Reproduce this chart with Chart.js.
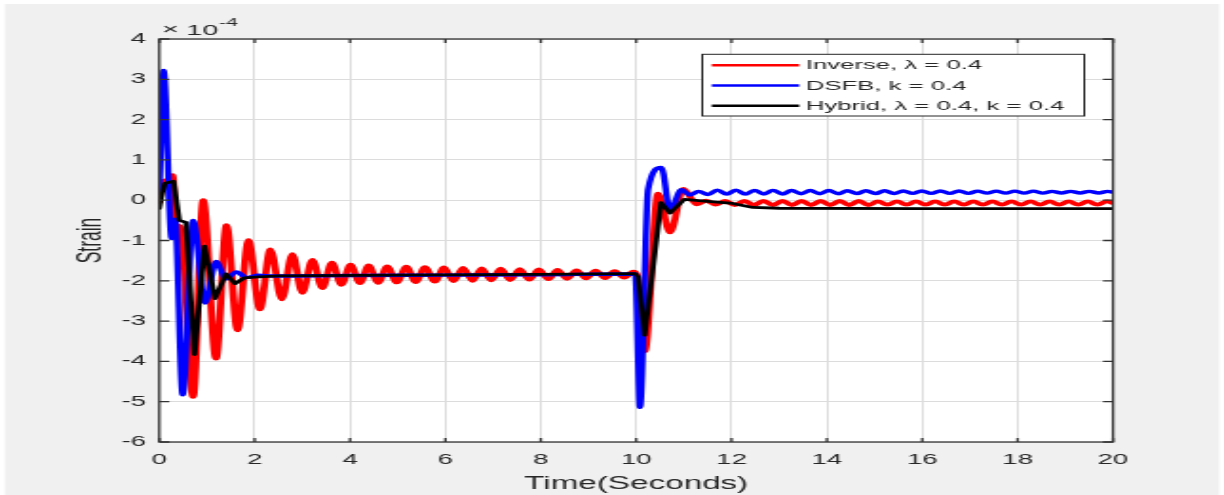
<!DOCTYPE html>
<html>
<head>
<meta charset="utf-8">
<title>Strain response</title>
<script src="https://cdn.jsdelivr.net/npm/chart.js@4.4.1/dist/chart.umd.min.js"></script>
<style>
  html, body { margin: 0; padding: 0; background: #ffffff; overflow: hidden; }
  /* the figure is drawn narrow and stretched sideways, like the source image */
  #wrap { width: 644px; height: 495px; transform: scaleX(1.9006); transform-origin: 0 0; }
</style>
</head>
<body>
<div id="wrap"><canvas id="chart"></canvas></div>
<script>
// strain values are in units of 1e-4 (axis shows the x10^-4 multiplier)
const xTickValues = [0, 2, 4, 6, 8, 10, 12, 14, 16, 18, 20];
const yTickValues = [-6, -5, -4, -3, -2, -1, 0, 1, 2, 3, 4];

const inverseTime = [
  0, 0.06, 0.18, 0.28, 0.35, 0.44, 0.71, 0.92, 1.19, 1.41,
  1.64, 1.87, 2.11, 2.33, 2.57, 2.79, 3.00, 3.21, 3.42, 3.62,
  3.82, 4.01, 4.21, 4.39, 4.59, 4.78, 4.98, 5.18, 5.38, 5.57,
  5.78, 5.97, 6.17, 6.37, 6.57, 6.76, 6.96, 7.16, 7.36, 7.56,
  7.76, 7.96, 8.16, 8.35, 8.55, 8.75, 8.95, 9.15, 9.35, 9.55,
  9.75, 9.94, 10.02, 10.18, 10.46, 10.71, 10.99, 11.27, 11.47, 11.67,
  11.87, 12.07, 12.27, 12.47, 12.67, 12.87, 13.07, 13.27, 13.47, 13.67,
  13.87, 14.07, 14.27, 14.47, 14.67, 14.87, 15.07, 15.27, 15.47, 15.67,
  15.87, 16.07, 16.27, 16.47, 16.67, 16.87, 17.07, 17.27, 17.47, 17.67,
  17.87, 18.07, 18.27, 18.47, 18.67, 18.87, 19.07, 19.27, 19.47, 19.67,
  19.87, 20.0
];
const inverseStrain = [
  -0.05, 0.45, 0.5, 0.62, -0.6, -0.66, -4.88, 0.0, -3.93, -0.62,
  -3.23, -0.99, -2.71, -1.22, -2.46, -1.34, -2.30, -1.48, -2.18, -1.55,
  -2.10, -1.60, -2.06, -1.62, -2.05, -1.64, -2.04, -1.65, -2.03, -1.66,
  -2.02, -1.67, -2.01, -1.68, -2.00, -1.69, -1.99, -1.70, -1.98, -1.71,
  -1.97, -1.72, -1.96, -1.73, -1.95, -1.74, -1.94, -1.75, -1.93, -1.76,
  -1.92, -1.77, -1.86, -3.75, 0.16, -0.80, 0.28, -0.10, -0.01, -0.11,
  -0.02, -0.12, -0.02, -0.12, -0.02, -0.12, -0.02, -0.12, -0.02, -0.12,
  -0.02, -0.12, -0.02, -0.12, -0.02, -0.12, -0.03, -0.11, -0.03, -0.11,
  -0.03, -0.11, -0.03, -0.11, -0.03, -0.11, -0.03, -0.11, -0.03, -0.11,
  -0.03, -0.11, -0.03, -0.11, -0.03, -0.11, -0.03, -0.11, -0.03, -0.11,
  -0.03, -0.07
];

const dsfbTime = [
  0, 0.09, 0.26, 0.33, 0.49, 0.71, 0.96, 1.19, 1.40, 1.62,
  1.83, 2.07, 2.4, 4.0, 6.0, 8.0, 9.98, 10.08, 10.25, 10.53,
  10.71, 10.95, 11.13, 11.31, 11.51, 11.70, 11.90, 12.09, 12.29, 12.48,
  12.68, 12.87, 13.07, 13.26, 13.46, 13.65, 13.85, 14.04, 14.24, 14.43,
  14.63, 14.82, 15.02, 15.21, 15.41, 15.60, 15.80, 15.99, 16.19, 16.38,
  16.58, 16.77, 16.97, 17.16, 17.36, 17.55, 17.75, 17.94, 18.14, 18.33,
  18.53, 18.72, 18.92, 19.11, 19.31, 19.50, 19.70, 19.89, 20.0
];
const dsfbStrain = [
  0.17, 3.22, -0.95, -0.47, -4.83, -0.5, -2.55, -1.52, -1.95, -1.78,
  -1.92, -1.86, -1.88, -1.87, -1.86, -1.85, -1.83, -5.14, 0.27, 0.81,
  -0.24, 0.26, 0.13, 0.22, 0.14, 0.25, 0.15, 0.25, 0.15, 0.245,
  0.155, 0.245, 0.155, 0.24, 0.16, 0.24, 0.16, 0.24, 0.16, 0.235,
  0.165, 0.235, 0.165, 0.235, 0.165, 0.23, 0.17, 0.23, 0.17, 0.23,
  0.17, 0.23, 0.17, 0.225, 0.175, 0.225, 0.175, 0.225, 0.175, 0.225,
  0.175, 0.22, 0.18, 0.22, 0.18, 0.22, 0.18, 0.22, 0.2
];

const hybridTime = [
  0, 0.06, 0.12, 0.30, 0.42, 0.56, 0.74, 0.95, 1.17, 1.40,
  1.59, 1.78, 2.0, 2.5, 5.0, 8.0, 9.98, 10.04, 10.18, 10.52,
  10.71, 11.01, 11.5, 12.03, 12.1, 12.45, 13.0, 16.0, 20.0
];
const hybridStrain = [
  -0.2, 0.17, 0.42, 0.47, -0.5, -0.55, -3.83, -1.14, -2.44, -1.83,
  -2.07, -1.93, -1.91, -1.88, -1.86, -1.84, -1.82, -1.9, -3.35, -0.06,
  -0.32, 0.02, -0.03, -0.08, -0.1, -0.18, -0.2, -0.21, -0.21
];

const FONT = 'Liberation Sans, Arial, sans-serif';
const TEXT = '#262626';

function points(times, values) {
  return times.map((t, i) => ({ x: t, y: values[i] }));
}

const matlabFrame = {
  id: 'matlabFrame',
  beforeDraw(chart) {
    const { ctx, chartArea: a, width, height } = chart;
    ctx.save();
    ctx.fillStyle = '#ffffff';
    ctx.fillRect(0, 0, width, height);
    ctx.fillStyle = '#f0f0f0';
    ctx.fillRect(2.6, 4, width - 5.2, height - 4);
    ctx.fillStyle = '#ffffff';
    ctx.fillRect(a.left, a.top, a.right - a.left, a.bottom - a.top);
    ctx.restore();
  },
  afterDraw(chart) {
    const { ctx, chartArea: a, scales } = chart;
    const x = scales.x, y = scales.y;
    ctx.save();

    // box and inward ticks on all four sides
    ctx.strokeStyle = '#333333';
    ctx.lineWidth = 1.3;
    ctx.strokeRect(a.left, a.top, a.right - a.left, a.bottom - a.top);
    ctx.beginPath();
    x.ticks.forEach(t => {
      const px = x.getPixelForValue(t.value);
      ctx.moveTo(px, a.bottom); ctx.lineTo(px, a.bottom - 4);
      ctx.moveTo(px, a.top); ctx.lineTo(px, a.top + 4);
    });
    y.ticks.forEach(t => {
      const py = y.getPixelForValue(t.value);
      ctx.moveTo(a.left, py); ctx.lineTo(a.left + 5.3, py);
      ctx.moveTo(a.right, py); ctx.lineTo(a.right - 5.3, py);
    });
    ctx.stroke();

    // exponent label: x10^-4
    ctx.fillStyle = TEXT;
    ctx.textBaseline = 'alphabetic';
    ctx.textAlign = 'left';
    ctx.font = '15px ' + FONT;
    ctx.fillText('\u00d7', a.left + 1.5, a.top - 5);
    ctx.fillText('10', a.left + 14.3, a.top - 4);
    const w = ctx.measureText('10').width;
    ctx.font = '11px ' + FONT;
    ctx.fillText('-4', a.left + 14.8 + w, a.top - 13);

    // legend box
    const L = { left: 369.5, top: 54.3, right: 570.5, bottom: 116 };
    ctx.fillStyle = '#ffffff';
    ctx.fillRect(L.left, L.top, L.right - L.left, L.bottom - L.top);
    ctx.strokeStyle = '#262626';
    ctx.lineWidth = 1;
    ctx.strokeRect(L.left, L.top, L.right - L.left, L.bottom - L.top);
    chart.data.datasets.forEach((ds, i) => {
      const yy = 65.2 + i * 20.3;
      ctx.strokeStyle = ds.borderColor;
      ctx.lineWidth = 2.5;
      ctx.beginPath();
      ctx.moveTo(374.5, yy);
      ctx.lineTo(420.5, yy);
      ctx.stroke();
      ctx.fillStyle = TEXT;
      ctx.font = '13.5px ' + FONT;
      ctx.textBaseline = 'middle';
      ctx.fillText(ds.label, 424.1, yy + 0.5);
    });
    ctx.restore();
  }
};

new Chart(document.getElementById('chart'), {
  type: 'line',
  data: {
    datasets: [
      {
        label: 'Inverse, \u03bb = 0.4',
        data: points(inverseTime, inverseStrain),
        borderColor: '#ff0000',
        borderWidth: 3.8,
        cubicInterpolationMode: 'monotone',
        order: 3
      },
      {
        label: 'DSFB, k = 0.4',
        data: points(dsfbTime, dsfbStrain),
        borderColor: '#0000ff',
        borderWidth: 3.4,
        cubicInterpolationMode: 'monotone',
        order: 2
      },
      {
        label: 'Hybrid, \u03bb = 0.4, k = 0.4',
        data: points(hybridTime, hybridStrain),
        borderColor: '#000000',
        borderWidth: 2.8,
        tension: 0,
        order: 1
      }
    ]
  },
  options: {
    responsive: true,
    maintainAspectRatio: false,
    animation: false,
    layout: { padding: { left: 0, top: 39, right: 58.4, bottom: 0 } },
    elements: { point: { radius: 0 }, line: { borderJoinStyle: 'round', borderCapStyle: 'round' } },
    plugins: { legend: { display: false }, tooltip: { enabled: false } },
    scales: {
      x: {
        type: 'linear',
        min: 0,
        max: 20,
        afterBuildTicks: s => { s.ticks = xTickValues.map(v => ({ value: v })); },
        afterFit: s => { s.height = 53; },
        grid: { color: '#dcdcdc', lineWidth: 1, drawTicks: false },
        border: { display: false },
        ticks: { color: TEXT, font: { family: FONT, size: 14.5 }, padding: 9, maxRotation: 0, autoSkip: false },
        title: { display: true, text: 'Time(Seconds)', color: TEXT, font: { family: FONT, size: 17.5 }, padding: { top: 0, bottom: 0.5 } }
      },
      y: {
        type: 'linear',
        min: -6,
        max: 4,
        afterBuildTicks: s => { s.ticks = yTickValues.map(v => ({ value: v })); },
        afterFit: s => { s.width = 83.8; },
        grid: { color: '#dcdcdc', lineWidth: 1, drawTicks: false },
        border: { display: false },
        ticks: { color: TEXT, font: { family: FONT, size: 14.5 }, padding: 7, autoSkip: false },
        title: { display: true, text: 'Strain', color: TEXT, font: { family: FONT, size: 17.5 }, padding: { top: 38, bottom: 0 } }
      }
    }
  },
  plugins: [matlabFrame]
});
</script>
</body>
</html>
